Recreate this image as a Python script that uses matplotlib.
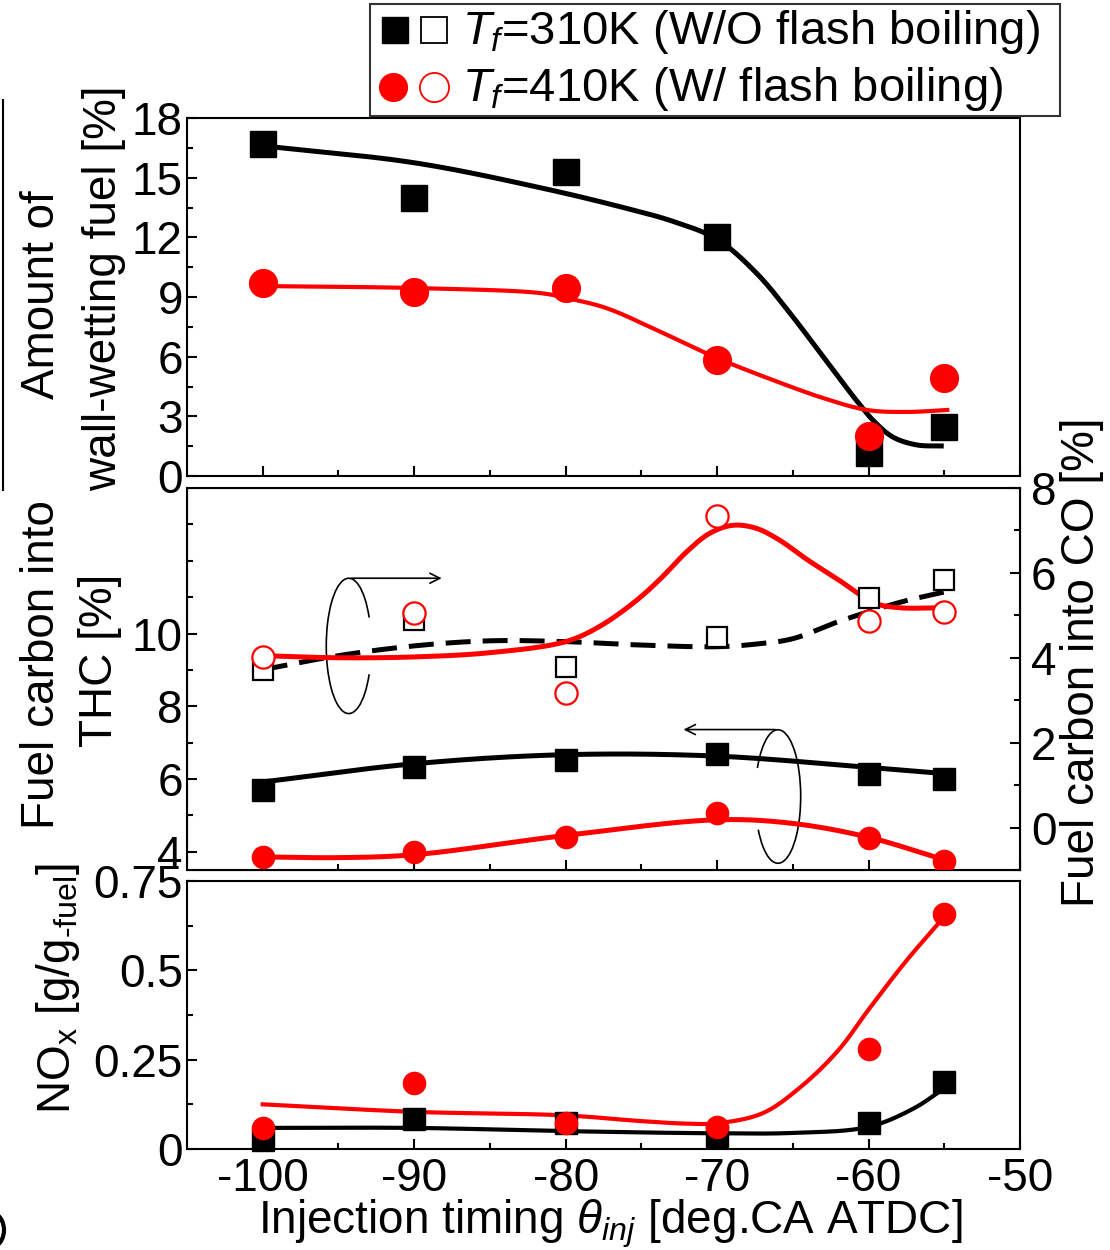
import numpy as np
import matplotlib
matplotlib.use("Agg")
import matplotlib.pyplot as plt
from matplotlib.patches import Arc
from matplotlib.lines import Line2D

plt.rcParams['font.family'] = ['Liberation Sans', 'DejaVu Sans']
plt.rcParams['mathtext.fontset'] = 'custom'
plt.rcParams['mathtext.rm'] = 'Liberation Sans'
plt.rcParams['mathtext.it'] = 'Liberation Sans:italic'
plt.rcParams['axes.unicode_minus'] = False

# ---------------- datos ----------------
theta = [-100, -90, -80, -70, -60, -55]

# panel superior: combustible en pared [%]
wall_310 = [16.7, 14.0, 15.3, 12.0, 1.15, 2.45]
wall_410 = [9.7, 9.25, 9.45, 5.85, 2.0, 4.92]
wall_310_fit_x = [-100, -90, -81.7, -76.2, -72.9, -70.0, -67.4, -65.2, -63.0, -60.8, -59.7, -58.4, -56.8, -55.2]
wall_310_fit_y = [16.6, 15.75, 14.5, 13.5, 12.8, 11.9, 10.2, 8.2, 6.0, 3.8, 2.8, 1.96, 1.56, 1.51]
wall_410_fit_x = [-100, -90, -81.7, -79.9, -77.3, -74.0, -70.0, -66.3, -63.0, -60.1, -57.5, -54.8]
wall_410_fit_y = [9.55, 9.45, 9.2, 8.94, 8.44, 7.34, 5.93, 4.82, 3.92, 3.32, 3.22, 3.32]

# panel medio: THC (eje izq) y CO (eje der) [%]
thc_310 = [5.71, 6.34, 6.51, 6.68, 6.15, 6.01]
thc_410 = [3.86, 4.0, 4.41, 5.08, 4.39, 3.75]
co_310 = [3.72, 4.89, 3.79, 4.49, 5.41, 5.84]
co_410 = [4.02, 5.06, 3.18, 7.34, 4.87, 5.08]
thc_310_fit_x = [-100, -90, -80, -70, -60, -55]
thc_310_fit_y = [5.92, 6.42, 6.67, 6.63, 6.32, 6.15]
thc_410_fit_x = [-100, -95, -90, -80, -70, -65, -60, -55]
thc_410_fit_y = [3.86, 3.84, 3.92, 4.45, 4.88, 4.78, 4.4, 3.78]
co_310_fit_x = [-100, -95, -90, -85, -80, -75, -70, -67.5, -65, -62, -58, -55]
co_310_fit_y = [3.72, 4.05, 4.28, 4.4, 4.38, 4.3, 4.26, 4.32, 4.45, 4.85, 5.3, 5.55]
co_410_fit_x = [-100, -95, -90, -85, -80, -77.8, -75.5, -73.8, -72, -70.5, -69, -67.5, -66, -64, -62, -59.6, -58, -55]
co_410_fit_y = [4.05, 4.0, 4.02, 4.12, 4.38, 4.73, 5.3, 5.84, 6.5, 6.93, 7.12, 7.06, 6.8, 6.3, 5.84, 5.29, 5.18, 5.18]

# panel inferior: NOx [g/g-fuel]
nox_310 = [0.025, 0.084, 0.072, 0.035, 0.072, 0.187]
nox_410 = [0.06, 0.184, 0.072, 0.062, 0.279, 0.658]
nox_310_fit_x = [-100, -90, -80, -70, -65, -60, -57, -55]
nox_310_fit_y = [0.059, 0.059, 0.05, 0.044, 0.045, 0.062, 0.114, 0.17]
nox_410_fit_x = [-100, -90, -80, -75, -72, -70, -67, -64.5, -62, -60, -57.5, -55]
nox_410_fit_y = [0.125, 0.104, 0.094, 0.078, 0.071, 0.072, 0.1, 0.173, 0.276, 0.39, 0.527, 0.65]

RED = '#ff0000'
FS_TICK = 33
PX_X = 15.14  # pixeles por grado en x


def suavizar(xs, ys, sy, n=30):
    # Catmull-Rom centripeta en escala de pixeles (sy = pixeles por unidad en y)
    p = np.column_stack([np.asarray(xs, float) * PX_X, np.asarray(ys, float) * sy])
    p = np.vstack([2 * p[0] - p[1], p, 2 * p[-1] - p[-2]])
    out = []
    for i in range(1, len(p) - 2):
        P0, P1, P2, P3 = p[i - 1], p[i], p[i + 1], p[i + 2]
        t0 = 0.0
        t1 = t0 + np.linalg.norm(P1 - P0) ** 0.5
        t2 = t1 + np.linalg.norm(P2 - P1) ** 0.5
        t3 = t2 + np.linalg.norm(P3 - P2) ** 0.5
        t = np.linspace(t1, t2, n, endpoint=False)[:, None]
        A1 = (t1 - t) / (t1 - t0) * P0 + (t - t0) / (t1 - t0) * P1
        A2 = (t2 - t) / (t2 - t1) * P1 + (t - t1) / (t2 - t1) * P2
        A3 = (t3 - t) / (t3 - t2) * P2 + (t - t2) / (t3 - t2) * P3
        B1 = (t2 - t) / (t2 - t0) * A1 + (t - t0) / (t2 - t0) * A2
        B2 = (t3 - t) / (t3 - t1) * A2 + (t - t1) / (t3 - t1) * A3
        out.append((t2 - t) / (t2 - t1) * B1 + (t - t1) / (t2 - t1) * B2)
    out.append(p[-2][None])
    a = np.vstack(out)
    return a[:, 0] / PX_X, a[:, 1] / sy


def estilo(ax, xlabels=False):
    ax.set_xlim(-105, -50)
    ax.set_xticks(np.arange(-100, -49, 10))
    ax.set_xticks(np.arange(-95, -50, 10), minor=True)
    ax.tick_params(which='both', direction='in', width=1.5, labelsize=FS_TICK, top=False, right=False)
    ax.tick_params(which='major', length=7, pad=3)
    ax.tick_params(which='minor', length=4)
    ax.tick_params(axis='x', pad=6, labelbottom=xlabels)
    for s in ax.spines.values():
        s.set_linewidth(1.5)


fig = plt.figure(figsize=(11.1, 12.5), dpi=100)
L, W = 187 / 1110, (1020 - 187) / 1110
ax1 = fig.add_axes([L, (1250 - 476) / 1250, W, 358 / 1250])
ax2 = fig.add_axes([L, (1250 - 870) / 1250, W, 382 / 1250])
ax3 = fig.add_axes([L, (1250 - 1149) / 1250, W, 268 / 1250])

# ---- panel superior ----
estilo(ax1)
ax1.set_ylim(0, 18)
ax1.set_yticks(np.arange(0, 19, 3))
ax1.set_yticks(np.arange(1.5, 18, 3), minor=True)
x, y = suavizar(wall_310_fit_x, wall_310_fit_y, 19.9)
ax1.plot(x, y, color='black', lw=3.6, zorder=2)
x, y = suavizar(wall_410_fit_x, wall_410_fit_y, 19.9)
ax1.plot(x, y, color=RED, lw=3.0, zorder=2)
ax1.plot(theta, wall_310, 's', color='black', ms=19, zorder=3)
ax1.plot(theta, wall_410, 'o', color=RED, ms=21, mec='none', zorder=4)

# ---- panel medio ----
estilo(ax2)
ax2.set_ylim(3.5, 14)
ax2.set_yticks([4, 6, 8, 10])
ax2.set_yticks([5, 7, 9, 11, 12, 13], minor=True)
ax2b = ax2.twinx()
ax2b.set_ylim(-1, 8)
ax2b.set_yticks([0, 2, 4, 6, 8])
ax2b.set_yticks([-1, 1, 3, 5, 7], minor=True)
ax2b.tick_params(which='both', direction='in', width=1.5, labelsize=FS_TICK, pad=8)
ax2b.tick_params(which='major', length=7)
ax2b.tick_params(which='minor', length=4)

x, y = suavizar(thc_310_fit_x, thc_310_fit_y, 36.25)
ax2.plot(x, y, color='black', lw=3.6, zorder=2)
x, y = suavizar(thc_410_fit_x, thc_410_fit_y, 36.25)
ax2.plot(x, y, color=RED, lw=3.6, zorder=2)
ax2.plot(theta, thc_310, 's', color='black', ms=16, zorder=3)
ax2.plot(theta, thc_410, 'o', color=RED, ms=17, mec='none', zorder=3)

x, y = suavizar(co_310_fit_x, co_310_fit_y, 42.5)
ax2b.plot(x, y, color='black', lw=3.6, dashes=(5, 2.4), zorder=2)
x, y = suavizar(co_410_fit_x, co_410_fit_y, 42.5)
ax2b.plot(x, y, color=RED, lw=3.6, zorder=2)
ax2b.plot(theta, co_310, 's', mfc='white', mec='black', mew=1.6, ms=14, zorder=3)
ax2b.plot(theta, co_410, 'o', mfc='white', mec=RED, mew=1.6, ms=16, zorder=3)

# elipses con flechas (eje THC)
ax2.add_patch(Arc((-94.32, 9.66), 2.97, 3.72, theta1=30, theta2=330, lw=1.2, color='black'))
ax2.annotate('', xy=(-88.0, 11.52), xytext=(-94.32, 11.52),
             arrowprops=dict(arrowstyle='->', lw=1.2, color='black', mutation_scale=18))
ax2.add_patch(Arc((-65.98, 5.52), 3.0, 3.67, theta1=-145, theta2=150, lw=1.2, color='black'))
ax2.annotate('', xy=(-72.4, 7.36), xytext=(-65.98, 7.36),
             arrowprops=dict(arrowstyle='->', lw=1.2, color='black', mutation_scale=18))

# ---- panel inferior ----
estilo(ax3, xlabels=True)
ax3.set_ylim(0, 0.75)
ax3.set_yticks([0, 0.25, 0.5, 0.75])
ax3.set_yticklabels(['0', '0.25', '0.5', '0.75'])
ax3.set_yticks([0.125, 0.375, 0.625], minor=True)
x, y = suavizar(nox_310_fit_x, nox_310_fit_y, 358.4)
ax3.plot(x, y, color='black', lw=3.0, zorder=2)
x, y = suavizar(nox_410_fit_x, nox_410_fit_y, 358.4)
ax3.plot(x, y, color=RED, lw=3.0, zorder=2)
ax3.plot(theta, nox_310, 's', color='black', ms=16, zorder=3, clip_on=False)
ax3.plot(theta, nox_410, 'o', color=RED, ms=17, mec='none', zorder=4, clip_on=False)

# ---- textos y leyenda (coordenadas en pixeles) ----
ov = fig.add_axes([0, 0, 1, 1], zorder=10)
ov.set_xlim(0, 1110)
ov.set_ylim(1250, 0)
ov.axis('off')
ov.patch.set_alpha(0)

fs_lab = 33
ov.text(42, 295, 'Amount of', rotation=90, ha='center', va='center', fontsize=fs_lab)
ov.text(104, 288, 'wall-wetting fuel [%]', rotation=90, ha='center', va='center', fontsize=fs_lab)
ov.text(42, 665, 'Fuel carbon into', rotation=90, ha='center', va='center', fontsize=fs_lab)
ov.text(100, 660, 'THC [%]', rotation=90, ha='center', va='center', fontsize=fs_lab)
ov.text(58, 988, 'NO$_{\\rm x}$ [g/g$_{\\rm \u2010fuel}$]', rotation=90, ha='center', va='center',
        fontsize=fs_lab)
ov.text(1082, 662, 'Fuel carbon into CO [%]', rotation=90, ha='center', va='center', fontsize=fs_lab)
ov.text(610, 1224, r'Injection timing $\theta_{inj}$ [deg.CA ATDC]', ha='center', va='center', fontsize=fs_lab)

# leyenda
ov.add_patch(plt.Rectangle((370, 4), 690, 112, fill=False, lw=1.5, ec='#333333'))
ov.add_line(Line2D([395], [30], marker='s', ms=19, color='black', ls='none'))
ov.add_line(Line2D([434], [30], marker='s', ms=19, mfc='white', mec='black', mew=1.3, ls='none'))
ov.add_line(Line2D([393], [87], marker='o', ms=21, color=RED, mec='none', ls='none'))
ov.add_line(Line2D([434], [87], marker='o', ms=21, mfc='white', mec=RED, mew=1.3, ls='none'))
ov.text(462, 32, r'$T_f$=310K (W/O flash boiling)', ha='left', va='center', fontsize=34)
ov.text(462, 89, r'$T_f$=410K (W/ flash boiling)', ha='left', va='center', fontsize=34)

# restos del borde izquierdo
ov.add_line(Line2D([3, 3], [100, 490], color='black', lw=1.5))
ov.add_patch(Arc((-14, 1230), 36, 40, theta1=-60, theta2=60, lw=3, color='black'))

fig.savefig('out.png', dpi=100)
